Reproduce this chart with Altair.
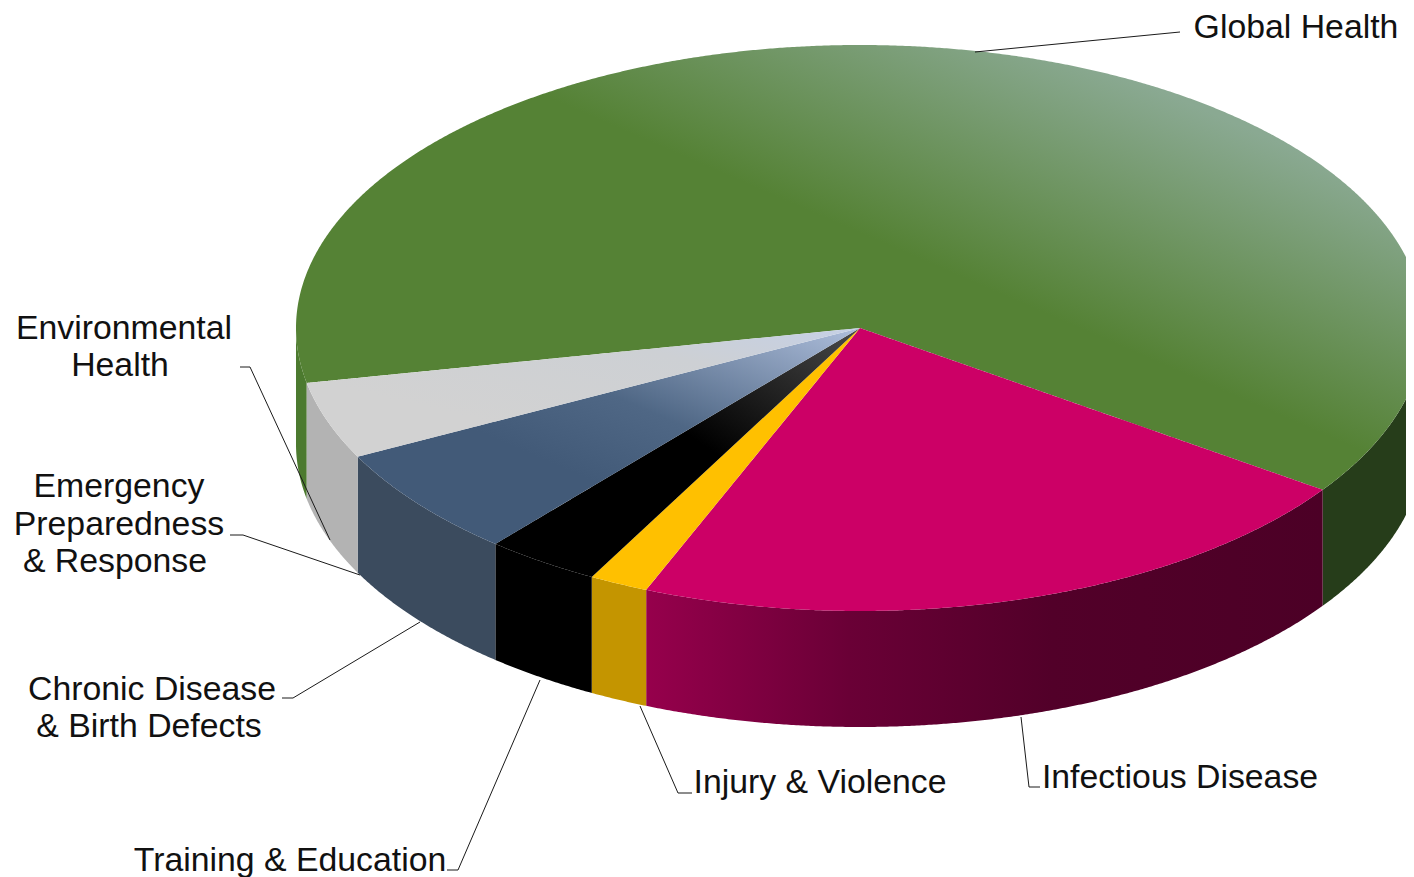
import math
import numpy as np
import pandas as pd
import altair as alt

# ---- values (share of the pie, %) ----
shares = [62.8, 21.5, 1.7, 3.3, 6.3, 4.4]
shares_cats = ["Global Health", "Infectious Disease", "Injury & Violence",
               "Training & Education", "Chronic Disease & Birth Defects",
               "Emergency Preparedness & Response"]
start_angle = 168.8  # where the first slice starts, degrees clockwise from east

label_text = ["Global Health", "Environmental", "Health", "Emergency", "Preparedness",
              "& Response", "Chronic Disease", "& Birth Defects", "Training & Education",
              "Injury & Violence", "Infectious Disease"]
label_x = [1296, 124, 120, 119, 119, 115, 152, 149, 290, 820, 1180]
label_y = [28, 329, 366, 487, 525, 562, 690, 727, 861, 783, 778]

leader_id = [0, 0, 1, 1, 1, 2, 2, 2, 3, 3, 3, 4, 4, 4, 5, 5, 5, 6, 6, 6]
leader_x = [975, 1180, 240, 250, 330, 230, 243, 360, 282, 293, 420, 447, 458, 540,
            640, 678, 692, 1021, 1029, 1040]
leader_y = [52, 32, 367, 367, 540, 535, 535, 575, 698, 698, 622, 870, 870, 680,
            706, 793, 793, 717, 787, 787]

# ---- pie geometry ----
CX, CY, RX, RY, DEPTH = 860.0, 328.0, 564.0, 283.0, 116.0
PX0, PX1, PY0, PY1 = 8, 1406, 8, 877


def pt(deg):
    t = math.radians(deg)
    return CX + RX * math.cos(t), CY + RY * math.sin(t)


def slice_frame(a0, a1):
    n = max(int((a1 - a0) * 4), 8)
    arc = [pt(a0 + (a1 - a0) * i / n) for i in range(n + 1)]
    poly = [(CX, CY)] + arc
    xs = sorted({round(p[0], 2) for p in poly})
    rows = []
    m = len(poly)
    for x in xs:
        ys = []
        for i in range(m):
            (x1, y1), (x2, y2) = poly[i], poly[(i + 1) % m]
            lo, hi = min(x1, x2), max(x1, x2)
            if lo - 0.01 <= x <= hi + 0.01:
                if abs(x2 - x1) < 1e-6:
                    ys += [y1, y2]
                else:
                    ys.append(y1 + (y2 - y1) * (x - x1) / (x2 - x1))
        rows.append({"x": x, "y": min(ys), "y2": max(ys)})
    return pd.DataFrame(rows)


def wall_frame(a0, a1):
    n = max(int((a1 - a0) * 4), 4)
    rows = []
    for i in range(n + 1):
        x, y = pt(a0 + (a1 - a0) * i / n)
        rows.append({"x": x, "y": y, "y2": y + DEPTH})
    return pd.DataFrame(rows).sort_values("x")


def grad(x1, y1, x2, y2, stops):
    return alt.Gradient(gradient="linear", x1=x1, y1=y1, x2=x2, y2=y2,
                        stops=[alt.GradientStop(offset=o, color=c) for o, c in stops])


top_fills = [
    grad(0.535, 0.461, 0.840, 0.184, [(0, "#558235"), (1, "#8aa992")]),
    "#cc0066",
    "#ffc000",
    grad(0.55, 0.45, 1, 0, [(0, "#000000"), (1, "#4a4a4a")]),
    grad(0.38, 0.62, 1, 0, [(0, "#425a78"), (0.35, "#4f6785"), (1, "#afbfdc")]),
    grad(0.3, 0.7, 1, 0, [(0, "#d2d2d2"), (0.6, "#cdd0d4"), (1, "#c5d0e6")]),
]
wall_fills = [
    "#263d1a",
    grad(0, 0, 1, 0, [(0, "#96004c"), (0.3, "#6a0036"), (0.6, "#520029"), (1, "#4c0026")]),
    "#c49500",
    "#000000",
    "#3b4b5e",
    "#b3b3b3",
]

x_enc = alt.X("x:Q", scale=alt.Scale(domain=[PX0, PX1], nice=False, zero=False), axis=None)
y_enc = alt.Y("y:Q", scale=alt.Scale(domain=[PY1, PY0], nice=False, zero=False), axis=None)


def area(df, fill):
    return alt.Chart(df).mark_area(color=fill, orient="vertical", clip=True,
                                   strokeWidth=0).encode(x=x_enc, y=y_enc, y2="y2:Q")


layers = []
angle = start_angle
edges = []
for share in shares:
    edges.append((angle, angle + share * 3.6))
    angle += share * 3.6

# walls, then top faces
for i, (a0, a1) in enumerate(edges):
    if i == 0:
        layers.append(area(wall_frame(a0, 180.0), "#4c7a2f"))
        layers.append(area(wall_frame(360.0, a1), wall_fills[0]))
    else:
        layers.append(area(wall_frame(a0 % 360, a1 % 360), wall_fills[i]))
for i, (a0, a1) in enumerate(edges):
    layers.append(area(slice_frame(a0, a1), top_fills[i]))

leaders = pd.DataFrame({"id": leader_id, "x": leader_x, "y": leader_y,
                        "o": range(len(leader_id))})
layers.append(alt.Chart(leaders).mark_line(color="#1a1a1a", strokeWidth=1, clip=True).encode(
    x=x_enc, y=y_enc, detail="id:N", order="o:Q"))

labels = pd.DataFrame({"t": label_text, "x": label_x, "y": label_y})
layers.append(alt.Chart(labels).mark_text(font="Liberation Sans", fontSize=33.8, align="center",
                                          baseline="middle", color="#111111").encode(
    x=x_enc, y=y_enc, text="t:N"))

chart = alt.layer(*layers).properties(
    width=PX1 - PX0, height=PY1 - PY0, padding=0,
    autosize=alt.AutoSizeParams(type="none"), background="white",
).configure_view(stroke=None)

chart.save("out.html", embed_options={"renderer": "svg", "actions": False})
